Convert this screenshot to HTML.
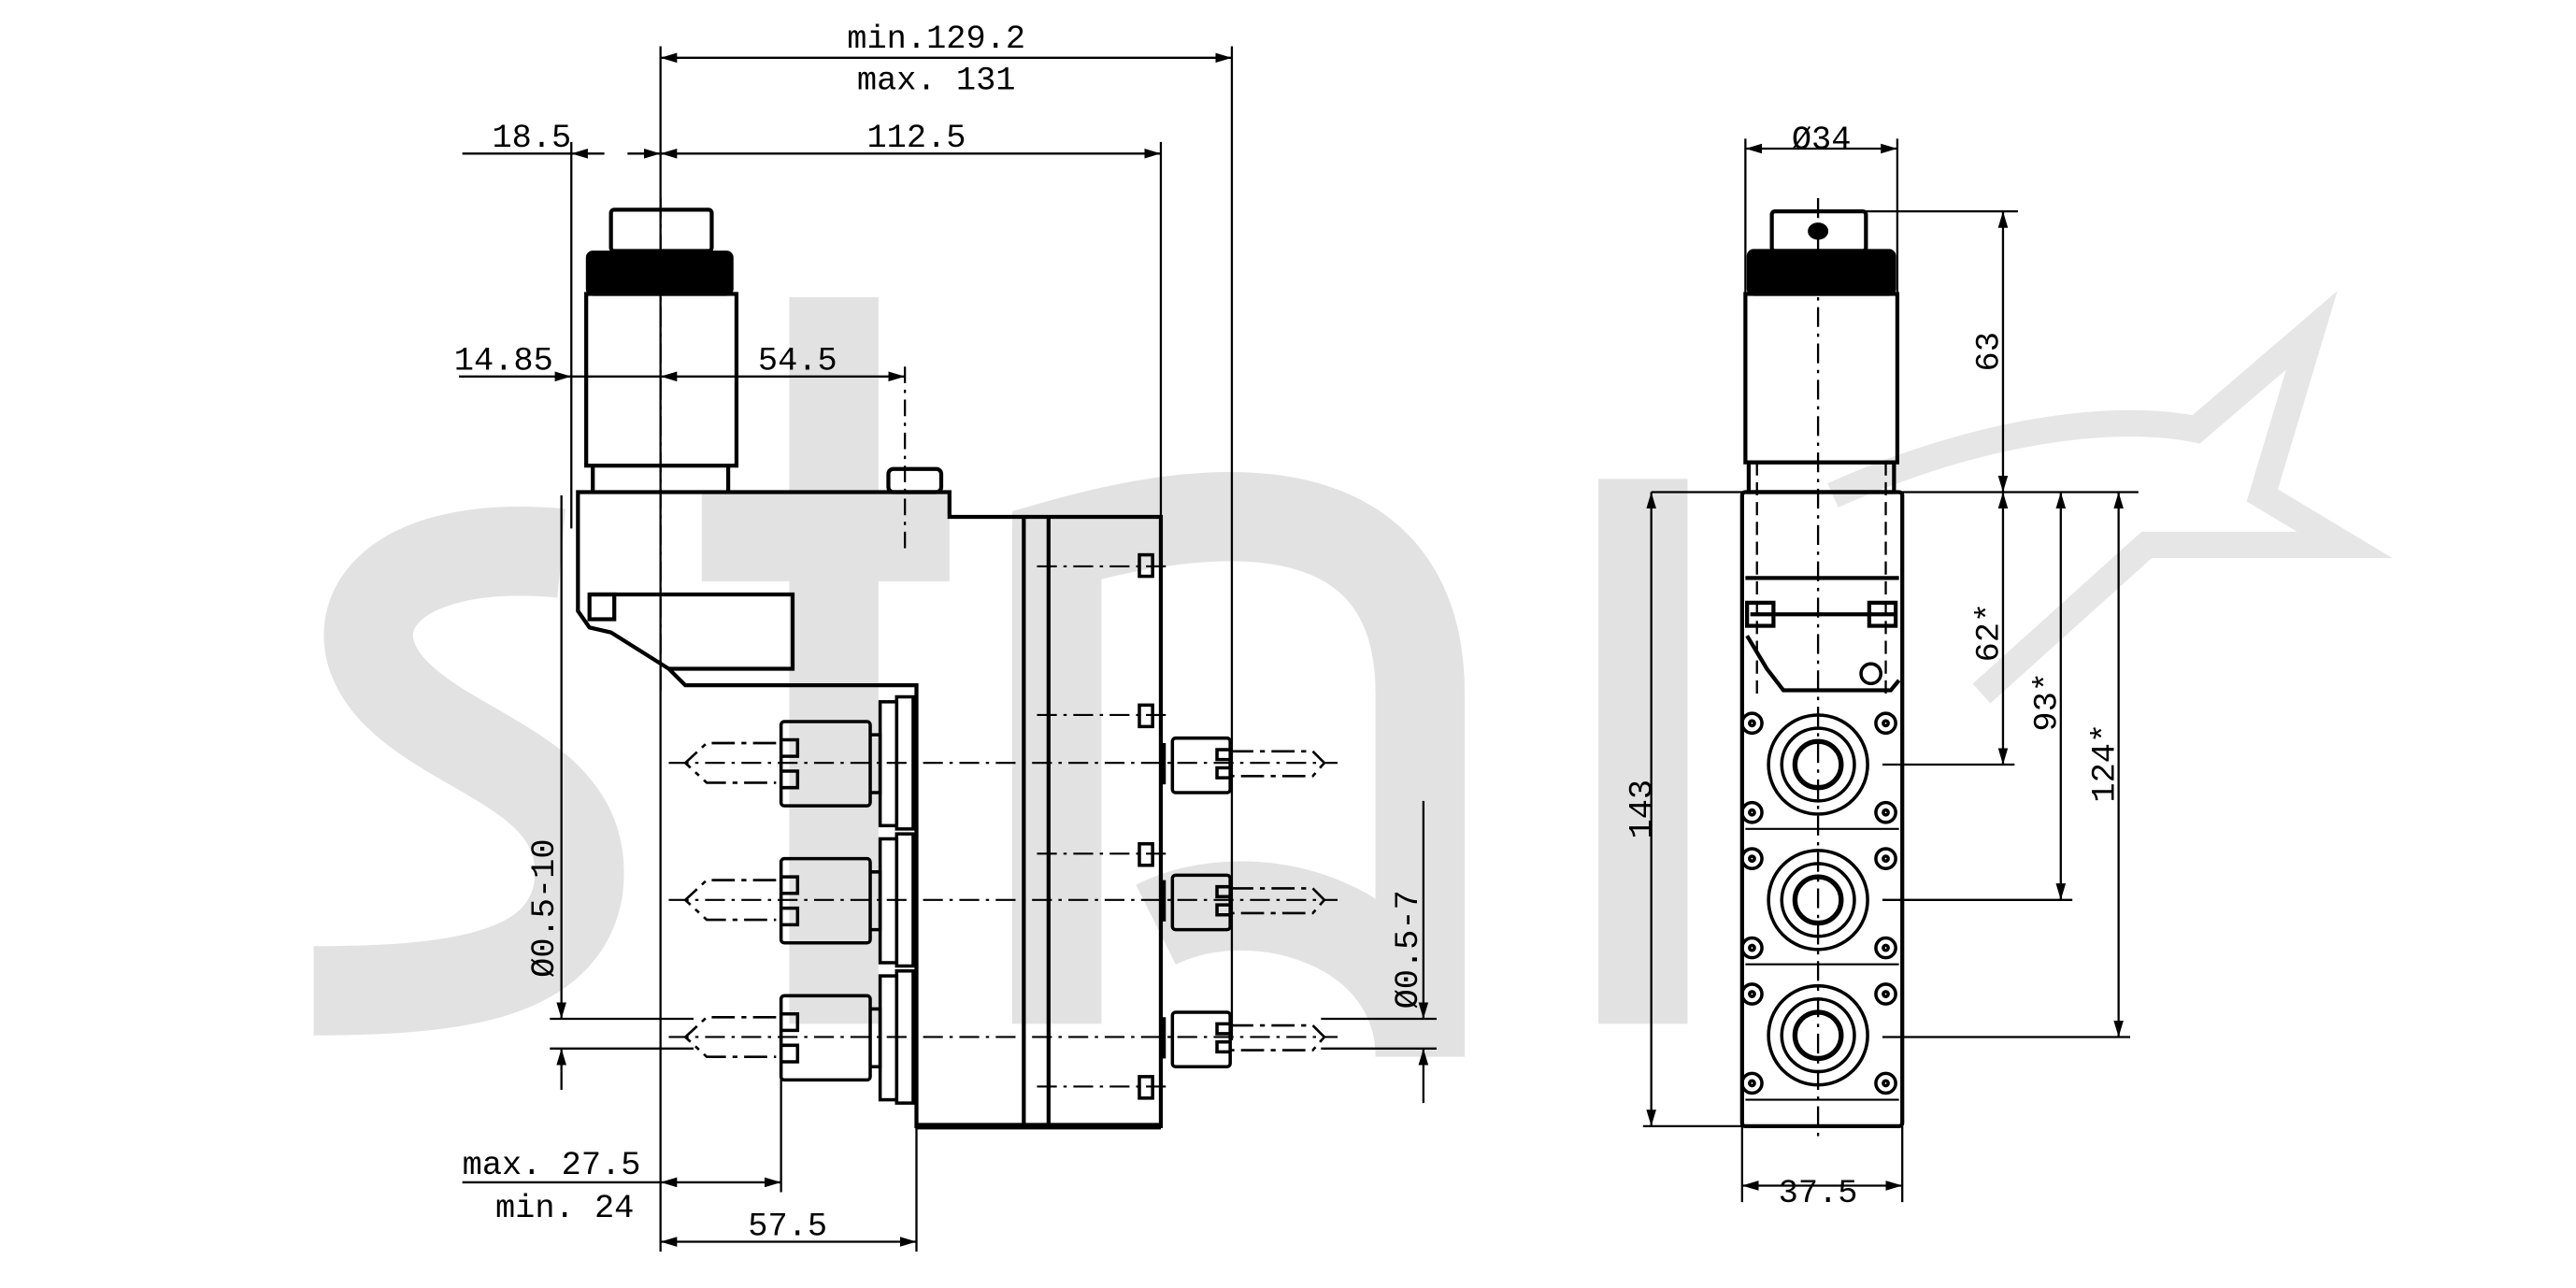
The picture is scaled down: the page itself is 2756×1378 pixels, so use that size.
<!DOCTYPE html>
<html><head><meta charset="utf-8"><style>html,body{margin:0;padding:0;background:#fff}svg{display:block}</style></head>
<body>
<svg width="2756" height="1378" viewBox="0 0 1560 780" preserveAspectRatio="none" xmlns="http://www.w3.org/2000/svg">
<defs>
<marker id="a" viewBox="0 0 10 6" refX="10" refY="3" markerWidth="10" markerHeight="6" orient="auto-start-reverse" markerUnits="userSpaceOnUse"><path d="M0,0 L10,3 L0,6z" fill="#000"/></marker>
</defs>
<!-- watermark -->
<g fill="none" stroke="#e2e2e2" stroke-width="54" stroke-linecap="butt">
<path d="M340,335 C230,325 200,380 240,420 C280,460 360,470 350,540 C340,590 280,600 190,600"/>
<path d="M505,180 L505,620 M425,325 L575,325"/>
<path d="M640,620 L640,330 C780,290 860,320 860,420 L860,640 C860,560 760,530 700,560"/>
<path d="M995,290 L995,620"/>
</g>
<g fill="none" stroke="#e6e6e6" stroke-width="16">
<path d="M1110,300 C1200,260 1280,250 1330,260 L1400,200 L1370,300 L1420,330 L1300,330 L1200,420"/>
</g>

<g stroke="#000" fill="none" stroke-width="1.3">
<line x1="400" y1="28" x2="400" y2="690"/>
<line x1="746" y1="28" x2="746" y2="630"/>
<line x1="400" y1="35" x2="746" y2="35" marker-start="url(#a)" marker-end="url(#a)"/>
<line x1="703" y1="86" x2="703" y2="320"/>
<line x1="346" y1="86" x2="346" y2="320"/>
<line x1="280" y1="93" x2="346" y2="93"/>
<line x1="346" y1="93" x2="366" y2="93" marker-start="url(#a)"/>
<line x1="380" y1="93" x2="400" y2="93" marker-end="url(#a)"/>
<line x1="400" y1="93" x2="703" y2="93" marker-start="url(#a)" marker-end="url(#a)"/>
<line x1="278" y1="228" x2="346" y2="228" marker-end="url(#a)"/>
<line x1="346" y1="228" x2="400" y2="228"/>
<line x1="400" y1="228" x2="548" y2="228" marker-start="url(#a)" marker-end="url(#a)"/>
<line x1="548" y1="222" x2="548" y2="335" stroke-dasharray="10,4,2,4"/>
<line x1="400" y1="120" x2="400" y2="420" stroke-dasharray="12,4,2,4"/>
<line x1="280" y1="716" x2="400" y2="716"/>
<line x1="400" y1="716" x2="473" y2="716" marker-start="url(#a)" marker-end="url(#a)"/>
<line x1="473" y1="640" x2="473" y2="722"/>
<line x1="555" y1="682" x2="555" y2="758"/>
<line x1="400" y1="752" x2="555" y2="752" marker-start="url(#a)" marker-end="url(#a)"/>
<line x1="400" y1="690" x2="400" y2="758"/>
<line x1="340" y1="300" x2="340" y2="617" marker-end="url(#a)"/>
<line x1="340" y1="635" x2="340" y2="660" marker-start="url(#a)"/>
<line x1="333" y1="617" x2="420" y2="617"/>
<line x1="333" y1="635" x2="420" y2="635"/>
<line x1="862" y1="485" x2="862" y2="617" marker-end="url(#a)"/>
<line x1="862" y1="635" x2="862" y2="668" marker-start="url(#a)"/>
<line x1="800" y1="617" x2="870" y2="617"/>
<line x1="800" y1="635" x2="870" y2="635"/>
</g>

<g stroke="#000" fill="none" stroke-width="2.4">
<rect x="370" y="127" width="61" height="25" rx="2"/>
<rect x="356" y="153" width="87" height="25" rx="3" fill="#000"/>
<rect x="355" y="178" width="91" height="104"/>
<path d="M359,282 L359,298 M441,282 L441,298"/>
<rect x="538" y="284" width="32" height="14" rx="3"/>
<path d="M350,298 L575,298 L575,313 L703,313 L703,682 L555,682 L555,415 L415,415 L405,405 L370,383 L357,380 L350,370 Z"/>
<path d="M357,360 L480,360 L480,405 L405,405"/>
<path d="M620,313 L620,682 M635,313 L635,682"/>
<rect x="357" y="360" width="15" height="15"/>
<path d="M555,682 L703,682" stroke-width="4"/>
</g>
<g stroke="#000" fill="none" stroke-width="1.2" stroke-dasharray="12,4,2,4">
<line x1="405" y1="462" x2="810" y2="462"/>
<line x1="405" y1="545" x2="810" y2="545"/>
<line x1="405" y1="628" x2="810" y2="628"/>
<line x1="628" y1="343" x2="710" y2="343"/>
<line x1="628" y1="433" x2="710" y2="433"/>
<line x1="628" y1="517" x2="710" y2="517"/>
<line x1="628" y1="658" x2="710" y2="658"/>
</g>
<g stroke="#000" fill="none" stroke-width="2">
<g id="lf">
<rect x="473" y="437" width="54" height="51" rx="2"/>
<path d="M473,448 h10 v10 h-10 M473,467 h10 v10 h-10"/>
<path d="M527,445 h6 v35 h-6"/>
<rect x="533" y="425" width="10" height="75"/>
<rect x="543" y="422" width="10" height="80"/>
<path d="M470,450 H428 L415,462 L428,474 H470" stroke-width="1.5" stroke-dasharray="14,4,3,4"/>
</g>
<use href="#lf" y="83"/>
<use href="#lf" y="166"/>
<g id="rf">
<rect x="710" y="447" width="35" height="33" rx="2"/>
<path d="M705,450 v25"/>
<path d="M745,454 h-8 v6 h8 M745,465 h-8 v6 h8"/>
<path d="M745,455 H795 L802,462 L795,470 H745" stroke-width="1.5" stroke-dasharray="14,4,3,4"/>
</g>
<use href="#rf" y="83"/>
<use href="#rf" y="166"/>
<rect x="690" y="336" width="8" height="13"/>
<rect x="690" y="427" width="8" height="13"/>
<rect x="690" y="511" width="8" height="13"/>
<rect x="690" y="652" width="8" height="13"/>
</g>

<g stroke="#000" fill="none" stroke-width="1.3">
<line x1="1057" y1="84" x2="1057" y2="180"/>
<line x1="1149" y1="84" x2="1149" y2="180"/>
<line x1="1057" y1="90" x2="1149" y2="90" marker-start="url(#a)" marker-end="url(#a)"/>
<line x1="1120" y1="128" x2="1222" y2="128"/>
<line x1="1000" y1="298" x2="1295" y2="298"/>
<line x1="1213" y1="128" x2="1213" y2="298" marker-start="url(#a)" marker-end="url(#a)"/>
<line x1="1213" y1="298" x2="1213" y2="463" marker-start="url(#a)" marker-end="url(#a)"/>
<line x1="1248" y1="298" x2="1248" y2="545" marker-start="url(#a)" marker-end="url(#a)"/>
<line x1="1283" y1="298" x2="1283" y2="628" marker-start="url(#a)" marker-end="url(#a)"/>
<line x1="1140" y1="463" x2="1220" y2="463"/>
<line x1="1140" y1="545" x2="1255" y2="545"/>
<line x1="1140" y1="628" x2="1290" y2="628"/>
<line x1="1000" y1="298" x2="1000" y2="682" marker-start="url(#a)" marker-end="url(#a)"/>
<line x1="995" y1="682" x2="1055" y2="682"/>
<line x1="1055" y1="682" x2="1055" y2="728"/>
<line x1="1152" y1="682" x2="1152" y2="728"/>
<line x1="1055" y1="718" x2="1152" y2="718" marker-start="url(#a)" marker-end="url(#a)"/>
<line x1="1101" y1="120" x2="1101" y2="690" stroke-dasharray="12,4,2,4"/>
<line x1="1064" y1="280" x2="1064" y2="420" stroke-dasharray="8,4"/>
<line x1="1142" y1="280" x2="1142" y2="420" stroke-dasharray="8,4"/>
</g>
<g stroke="#000" fill="none" stroke-width="2.4">
<rect x="1073" y="128" width="57" height="24" rx="2"/>
<ellipse cx="1101" cy="140" rx="5" ry="4" fill="#000"/>
<rect x="1059" y="152" width="88" height="26" rx="3" fill="#000"/>
<rect x="1057" y="178" width="92" height="102"/>
<rect x="1059" y="280" width="88" height="18"/>
<rect x="1055" y="298" width="97" height="384" rx="2"/>
<path d="M1057,350 H1150 M1060,372 H1148 M1058,385 L1070,405 L1080,418 H1145 L1150,412"/>
<rect x="1058" y="365" width="16" height="14"/><rect x="1132" y="365" width="16" height="14"/>
</g>
<g stroke="#000" fill="none" stroke-width="2">
<g id="port">
<circle cx="1101" cy="463" r="30"/>
<circle cx="1101" cy="463" r="22"/>
<circle cx="1101" cy="463" r="14" stroke-width="3"/>
<circle cx="1061" cy="438" r="6"/><circle cx="1142" cy="438" r="6"/>
<circle cx="1061" cy="492" r="6"/><circle cx="1142" cy="492" r="6"/>
<circle cx="1061" cy="438" r="1.5"/><circle cx="1142" cy="438" r="1.5"/>
<circle cx="1061" cy="492" r="1.5"/><circle cx="1142" cy="492" r="1.5"/>
<path d="M1057,502 H1150" stroke-width="1.2"/>
</g>
<use href="#port" y="82"/>
<use href="#port" y="164"/>
<circle cx="1133" cy="408" r="6"/>
</g>

<g font-family="'Liberation Mono','DejaVu Sans Mono',monospace" font-size="20" fill="#000" text-anchor="middle">
<text x="567" y="29">min.129.2</text>
<text x="567" y="54">max. 131</text>
<text x="322" y="89">18.5</text>
<text x="555" y="89">112.5</text>
<text x="305" y="224">14.85</text>
<text x="483" y="224">54.5</text>
<text x="334" y="711">max. 27.5</text>
<text x="342" y="737">min. 24</text>
<text x="477" y="748">57.5</text>
<text x="1103" y="90">Ø34</text>
<text x="1101" y="728">37.5</text>
<text transform="translate(335,550) rotate(-90)">Ø0.5-10</text>
<text transform="translate(858,575) rotate(-90)">Ø0.5-7</text>
<text transform="translate(1000,490) rotate(-90)">143</text>
<text transform="translate(1210,213) rotate(-90)">63</text>
<text transform="translate(1210,383) rotate(-90)">62*</text>
<text transform="translate(1245,425) rotate(-90)">93*</text>
<text transform="translate(1280,462) rotate(-90)">124*</text>
</g>
</svg>
</body></html>
